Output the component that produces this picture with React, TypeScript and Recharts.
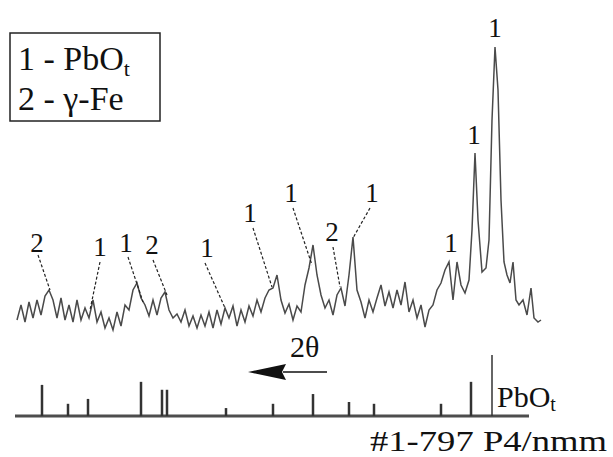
import React from "react";
import { LineChart, Line, XAxis, YAxis, ReferenceLine, ReferenceDot } from "recharts";

// diffractogram trace: detector channel vs counts (arbitrary units)
const channel = [
  2, 6, 10, 14, 18, 22, 26, 30, 34, 38, 42, 46, 50, 54, 58, 62, 66, 70, 74, 78,
  82, 86, 90, 94, 98, 102, 106, 110, 114, 118, 122, 126, 130, 134, 138, 142, 146, 150, 154, 158,
  162, 166, 170, 174, 178, 182, 186, 190, 194, 198, 202, 206, 210, 214, 218, 222, 226, 230, 234, 238,
  242, 246, 250, 254, 258, 262, 266, 270, 274, 278, 282, 286, 290, 294, 298, 302, 306, 310, 314, 318,
  322, 326, 330, 334, 338, 342, 346, 350, 354, 358, 362, 366, 370, 374, 378, 382, 386, 390, 394, 398,
  402, 406, 410, 414, 418, 422, 426, 430, 434, 438, 442, 446, 450, 454, 457, 460, 463, 467, 471, 474,
  477, 480, 483, 486, 489, 492, 495, 498, 501, 504, 508, 512, 516, 519, 523, 526,
];
const counts = [
  25, 40, 23, 43, 27, 45, 30, 49, 55, 45, 27, 47, 25, 40, 23, 45, 25, 37, 27, 45,
  23, 33, 17, 27, 15, 33, 19, 40, 35, 55, 62, 47, 40, 29, 45, 30, 47, 53, 35, 27,
  31, 23, 35, 19, 29, 17, 30, 19, 33, 17, 35, 21, 37, 27, 39, 19, 35, 23, 39, 29,
  45, 33, 47, 55, 57, 70, 45, 32, 41, 25, 39, 33, 60, 77, 100, 70, 50, 37, 45, 30,
  50, 57, 39, 70, 108, 55, 43, 27, 45, 33, 47, 60, 39, 53, 37, 55, 40, 63, 33, 45,
  27, 40, 18, 35, 40, 55, 62, 75, 83, 45, 83, 60, 52, 65, 115, 192, 125, 73, 77, 105,
  225, 298, 255, 145, 83, 70, 62, 83, 45, 40, 45, 30, 57, 27, 23, 25,
];

// PbO card #1-797 reference lines (relative intensity)
const stickPos = [27, 53, 73, 126, 147, 152, 211, 258, 298, 334, 359, 426, 456, 477];
const stickInt = [51, 20, 28, 56, 43, 43, 13, 20, 36, 23, 20, 20, 56, 100];

// peak markers: phase number, label point, leader start, leader end
const peakText = ["2", "1", "1", "2", "1", "1", "1", "2", "1", "1", "1", "1"];
const labelCh = [22, 85, 111, 137, 192, 235, 276, 317, 357, 436, 459, 480];
const labelCt = [102, 98, 102, 100, 97, 132, 152, 113, 152, 102, 210, 317];
const leadFrom = [[23, 90], [85, 83], [113, 88], [138, 85], [190, 82], [238, 117], [278, 137], [318, 98], [355, 137], null, null, null];
const leadTo = [[35, 55], [75, 35], [128, 43], [152, 50], [210, 37], [257, 58], [297, 80], [325, 58], [338, 107], null, null, null];

const trace = channel.map((ch, i) => ({ ch, v: counts[i] }));
const sticks = stickPos.map((ch, i) => ({ ch, h: stickInt[i] }));

const serif = "Liberation Serif, DejaVu Serif, serif";
const W = 613;
const H = 457;

export default function App() {
  return (
    <div style={{ position: "absolute", left: 0, top: 0, width: W, height: H, background: "#fff", overflow: "hidden" }}>
      <div style={{ position: "absolute", left: 0, top: 0 }}>
        <LineChart width={W} height={H} data={trace} margin={{ top: 15, right: 72, bottom: 112, left: 15 }}>
          <XAxis type="number" dataKey="ch" domain={[0, 526]} hide />
          <YAxis type="number" domain={[0, 330]} hide />
          <Line type="linear" dataKey="v" stroke="#4a4a4a" strokeWidth={1.5} dot={false} isAnimationActive={false} />
          {leadFrom.map((f, i) =>
            f && leadTo[i] ? (
              <ReferenceLine
                key={"l" + i}
                segment={[{ x: f[0], y: f[1] }, { x: leadTo[i]![0], y: leadTo[i]![1] }]}
                stroke="#222"
                strokeWidth={1.2}
                strokeDasharray="3 2"
                ifOverflow="visible"
              />
            ) : null
          )}
          {peakText.map((t, i) => (
            <ReferenceDot
              key={"p" + i}
              x={labelCh[i]}
              y={labelCt[i]}
              r={0}
              ifOverflow="visible"
              shape={(p: any) => (
                <text x={p.cx} y={p.cy} textAnchor="middle" dominantBaseline="central" style={{ fontFamily: serif }} fontSize={27} fill="#111">
                  {t}
                </text>
              )}
            />
          ))}
        </LineChart>
      </div>
      <div style={{ position: "absolute", left: 0, top: 0 }}>
        <LineChart width={W} height={H} data={sticks} margin={{ top: 355, right: 72, bottom: 41, left: 15 }}>
          <XAxis type="number" dataKey="ch" domain={[0, 526]} hide />
          <YAxis type="number" domain={[0, 100]} hide />
          <Line dataKey="h" stroke="none" dot={false} isAnimationActive={false} />
          <ReferenceLine segment={[{ x: 0, y: 0 }, { x: 514, y: 0 }]} stroke="#4d4d4d" strokeWidth={3} ifOverflow="visible" />
          {sticks.map((s, i) => (
            <ReferenceLine
              key={"s" + i}
              segment={[{ x: s.ch, y: 0 }, { x: s.ch, y: s.h }]}
              stroke="#333"
              strokeWidth={i === sticks.length - 1 ? 1.5 : 2.5}
              ifOverflow="visible"
            />
          ))}
        </LineChart>
      </div>
      <svg width={W} height={H} style={{ position: "absolute", left: 0, top: 0, pointerEvents: "none", fontFamily: serif }}>
        <rect x={10} y={33} width={150} height={88} fill="#fff" stroke="#222" strokeWidth={1.5} />
        <text x={18} y={70} fontSize={34} fill="#111">
          1 - PbO<tspan fontSize={22} dy={6}>t</tspan>
        </text>
        <text x={18} y={110} fontSize={34} fill="#111">2 - γ-Fe</text>
        <text x={290} y={357} fontSize={30} fill="#111">2θ</text>
        <line x1={283} y1={372} x2={327} y2={372} stroke="#111" strokeWidth={1.5} />
        <polygon points="248,372 286,364 282,372 286,380" fill="#111" />
        <text x={497} y={407} fontSize={30} fill="#111">
          PbO<tspan fontSize={20} dy={4}>t</tspan>
        </text>
        <text x={370} y={451} fontSize={30} fill="#111" textLength={237} lengthAdjust="spacingAndGlyphs">
          #1-797 P4/nmm
        </text>
      </svg>
    </div>
  );
}
